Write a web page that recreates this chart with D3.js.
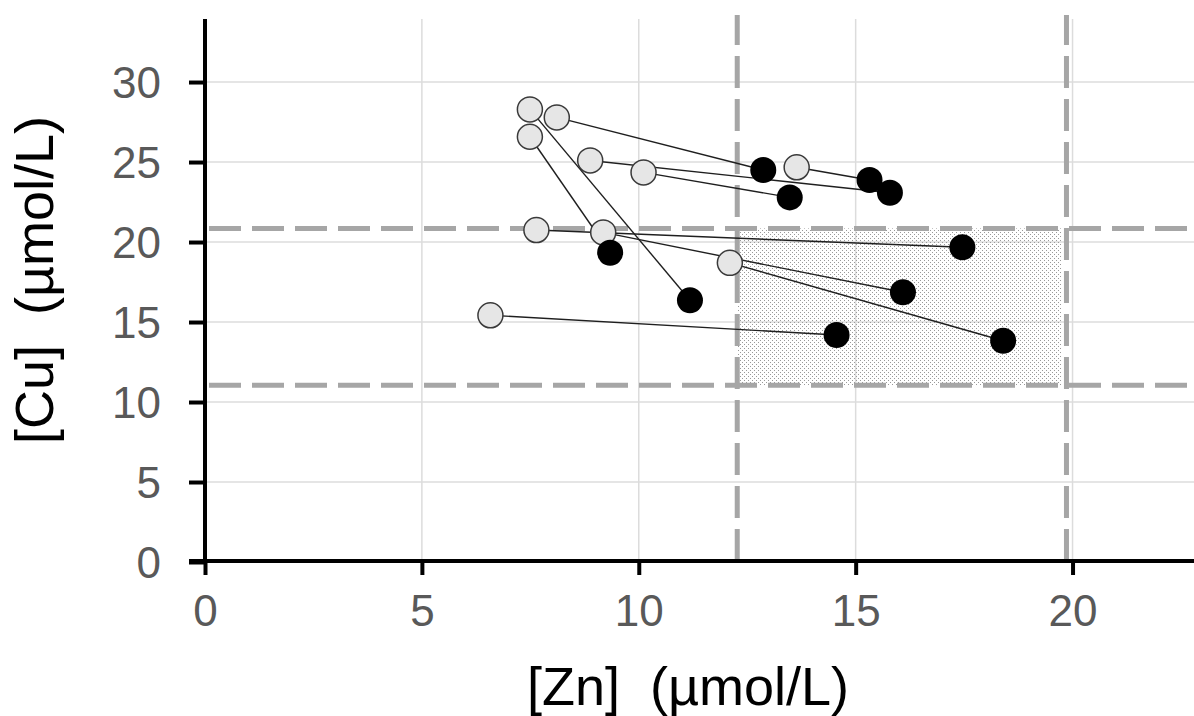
<!DOCTYPE html>
<html>
<head>
<meta charset="utf-8">
<script src="https://cdn.jsdelivr.net/npm/d3@7"></script>
<style>
  html, body { margin: 0; padding: 0; background: #fff; }
  svg { display: block; }
  .title { white-space: pre; }
</style>
</head>
<body>
<svg id="chart" width="1194" height="716"></svg>
<script>
// ---- data ----
const znBefore = [7.49, 8.11, 7.49, 8.88, 10.11, 13.64, 7.64, 9.18, 12.10, 6.58];
const cuBefore = [28.29, 27.79, 26.58, 25.10, 24.35, 24.67, 20.75, 20.60, 18.70, 15.42];
const znAfter  = [11.18, 12.87, 9.34, 15.79, 13.48, 15.32, 17.46, 16.09, 18.40, 14.56];
const cuAfter  = [16.36, 24.50, 19.33, 23.08, 22.79, 23.88, 19.67, 16.86, 13.83, 14.19];

const xTicks = [0, 5, 10, 15, 20];
const yTicks = [0, 5, 10, 15, 20, 25, 30];
const refZn = [12.27, 19.86];       // vertical dashed reference lines
const refCu = [11.04, 20.85];       // horizontal dashed reference lines
const shadeZn = [12.27, 19.75];     // stippled normal-range box
const xTitle = "[Zn]  (µmol/L)";
const yTitle = "[Cu]  (µmol/L)";

// ---- layout ----
const svg = d3.select("#chart");
const pLeft = 205, pRight = 1194, pTop = 19, pBottom = 562;
const x = d3.scaleLinear().domain([0, 22.8]).range([pLeft, pRight]);
const y = d3.scaleLinear().domain([0, 33.94]).range([pBottom, pTop]);

// stipple pattern
const defs = svg.append("defs");
const pat = defs.append("pattern").attr("id", "stipple")
  .attr("patternUnits", "userSpaceOnUse").attr("width", 4).attr("height", 4);
pat.append("rect").attr("x", 0).attr("y", 0).attr("width", 1).attr("height", 1).attr("fill", "#999");
pat.append("rect").attr("x", 2).attr("y", 2).attr("width", 1).attr("height", 1).attr("fill", "#999");

// gridlines
const grid = svg.append("g");
grid.selectAll("line.gx").data(xTicks.filter(d => d > 0)).enter().append("line")
  .attr("x1", d => x(d)).attr("x2", d => x(d))
  .attr("y1", y(0)).attr("y2", pTop)
  .attr("stroke", "#dcdcdc").attr("stroke-width", 1.5);
grid.selectAll("line.gy").data(yTicks.filter(d => d > 0)).enter().append("line")
  .attr("x1", pLeft).attr("x2", pRight)
  .attr("y1", d => y(d)).attr("y2", d => y(d))
  .attr("stroke", "#dcdcdc").attr("stroke-width", 1.5);

// shaded region
svg.append("rect")
  .attr("x", x(shadeZn[0])).attr("y", y(refCu[1]))
  .attr("width", x(shadeZn[1]) - x(shadeZn[0]))
  .attr("height", y(refCu[0]) - y(refCu[1]))
  .attr("fill", "url(#stipple)");

// dashed reference lines
const ref = svg.append("g").attr("stroke", "#a6a6a6").attr("stroke-width", 5)
  .attr("stroke-dasharray", "32,11").attr("fill", "none");
ref.selectAll("line.rv").data(refZn).enter().append("line")
  .attr("x1", d => x(d)).attr("x2", d => x(d))
  .attr("y1", y(0) - 1).attr("y2", pTop - 4);
ref.selectAll("line.rh").data(refCu).enter().append("line")
  .attr("x1", pLeft + 4).attr("x2", pRight)
  .attr("y1", d => y(d)).attr("y2", d => y(d));

// axes
const xAxis = d3.axisBottom(x).tickValues(xTicks).tickSize(14).tickPadding(20).tickFormat(d3.format("d"));
const yAxis = d3.axisLeft(y).tickValues(yTicks).tickSize(16).tickPadding(28).tickFormat(d3.format("d"));

const gx = svg.append("g").attr("transform", `translate(0,${y(0) - 1})`).call(xAxis);
const gy = svg.append("g").attr("transform", `translate(${pLeft},0)`).call(yAxis);

gx.select(".domain").remove();
gy.select(".domain").remove();
[gx, gy].forEach(g => {
  g.selectAll(".tick line").attr("stroke", "#000").attr("stroke-width", 4);
  g.selectAll(".tick text").attr("fill", "#595959")
    .style("font-family", "'Liberation Sans', Arial, sans-serif").style("font-size", "44px");
});
gx.selectAll(".tick text").attr("dy", "0.71em");
gy.selectAll(".tick text").attr("dy", "0.35em");

// axis lines
svg.append("line").attr("x1", pLeft - 16).attr("x2", pRight)
  .attr("y1", y(0) - 1).attr("y2", y(0) - 1)
  .attr("stroke", "#000").attr("stroke-width", 4);
svg.append("line").attr("x1", pLeft).attr("x2", pLeft)
  .attr("y1", y(0) + 1).attr("y2", pTop)
  .attr("stroke", "#000").attr("stroke-width", 4);

// pairs
const pairs = znBefore.map((d, i) => ({x0: d, y0: cuBefore[i], x1: znAfter[i], y1: cuAfter[i]}));
svg.append("g").selectAll("line").data(pairs).enter().append("line")
  .attr("x1", d => x(d.x0)).attr("y1", d => y(d.y0))
  .attr("x2", d => x(d.x1)).attr("y2", d => y(d.y1))
  .attr("stroke", "#1f1f1f").attr("stroke-width", 1.4);

svg.append("g").selectAll("circle").data(pairs).enter().append("circle")
  .attr("cx", d => x(d.x0)).attr("cy", d => y(d.y0)).attr("r", 12.5)
  .attr("fill", "#e6e6e6").attr("stroke", "#3a3a3a").attr("stroke-width", 1.5);

svg.append("g").selectAll("circle").data(pairs).enter().append("circle")
  .attr("cx", d => x(d.x1)).attr("cy", d => y(d.y1)).attr("r", 13)
  .attr("fill", "#000");

// titles
svg.append("text").attr("class", "title").attr("x", 688).attr("y", 705).attr("text-anchor", "middle")
  .attr("xml:space", "preserve")
  .style("font-family", "'Liberation Sans', Arial, sans-serif").style("font-size", "54px")
  .attr("fill", "#000").text(xTitle);
svg.append("text").attr("class", "title").attr("transform", "translate(53,280) rotate(-90)").attr("text-anchor", "middle")
  .attr("xml:space", "preserve")
  .style("font-family", "'Liberation Sans', Arial, sans-serif").style("font-size", "54px")
  .attr("fill", "#000").text(yTitle);
</script>
</body>
</html>
